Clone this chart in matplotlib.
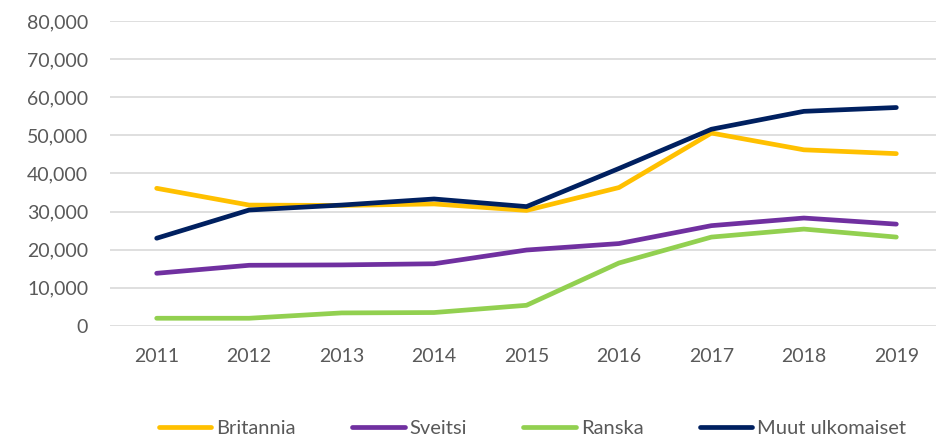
import matplotlib
matplotlib.use("Agg")
import matplotlib.pyplot as plt
from matplotlib.ticker import FuncFormatter

years = ["2011", "2012", "2013", "2014", "2015", "2016", "2017", "2018", "2019"]
britannia = [36100, 31700, 31600, 32000, 30300, 36300, 50600, 46200, 45200]
sveitsi = [13800, 15900, 16000, 16300, 19900, 21600, 26300, 28300, 26700]
ranska = [2000, 2000, 3400, 3500, 5400, 16500, 23300, 25400, 23300]
muut = [23000, 30400, 31700, 33300, 31300, 41300, 51600, 56300, 57300]
labels = ["Britannia", "Sveitsi", "Ranska", "Muut ulkomaiset"]
colors = ["#FFC000", "#7030A0", "#92D050", "#002060"]

plt.rcParams['font.family'] = ['Lato', 'DejaVu Sans']

fig = plt.figure(figsize=(9.36, 4.38), dpi=100)
ax = fig.add_axes([0.118, 0.256, 0.889, 0.696])

x = list(range(len(years)))
for data, lab, col in zip([britannia, sveitsi, ranska, muut], labels, colors):
    ax.plot(x, data, color=col, lw=3.4, label=lab, solid_capstyle='round', solid_joinstyle='round', zorder=3)

ax.set_xlim(-0.5, len(years) - 0.5)
ax.set_ylim(0, 80000)
ax.set_yticks(range(0, 80001, 10000))
ax.yaxis.set_major_formatter(FuncFormatter(lambda v, p: f"{int(v):,}"))
ax.set_xticks(x)
ax.set_xticklabels(years)
ax.grid(axis='y', color='#D9D9D9', lw=1.2, zorder=0)
for s in ax.spines.values():
    s.set_visible(False)
ax.tick_params(axis='both', length=0, colors='#595959', labelsize=14)
ax.tick_params(axis='x', pad=16)
ax.tick_params(axis='y', pad=16)

fig.legend(loc='center', bbox_to_anchor=(0.569, 0.022), ncol=4, frameon=False,
           fontsize=14.5, handlelength=2.6, columnspacing=2.8, handletextpad=0.25,
           labelcolor='#595959')

fig.savefig("out.png", dpi=100)
